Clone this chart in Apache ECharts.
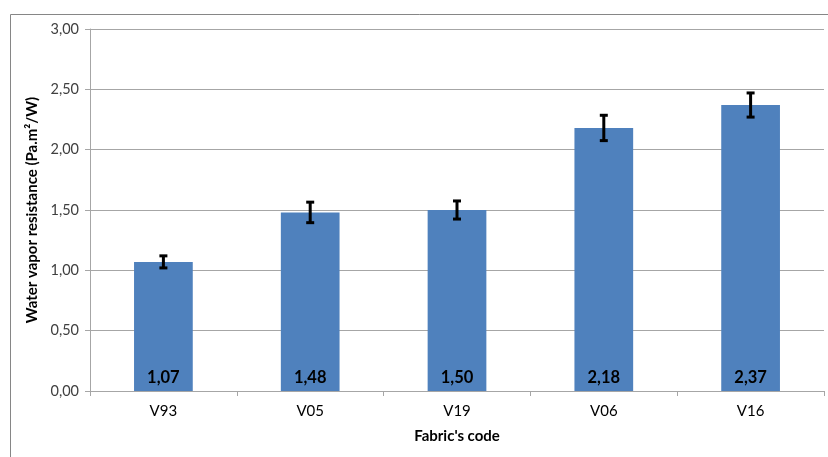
<!DOCTYPE html>
<html>
<head>
<meta charset="utf-8">
<script src="https://cdn.jsdelivr.net/npm/echarts@6/dist/echarts.min.js"></script>
<style>
  html, body { margin: 0; padding: 0; background: #fff; }
  #chart { width: 828px; height: 457px; }
</style>
</head>
<body>
<div id="chart"></div>
<script>
// Fabric codes and their mean water vapour resistance
const categories = ['V93', 'V05', 'V19', 'V06', 'V16'];
const values = [1.07, 1.48, 1.50, 2.18, 2.37];
// Symmetric error (± standard deviation) per fabric
const errors = [0.05, 0.085, 0.075, 0.105, 0.10];
const yTicks = [0, 0.5, 1, 1.5, 2, 2.5, 3];

const fmt = v => v.toFixed(2).replace('.', ',');
const FONT = 'Lato, "Open Sans", sans-serif';

const chart = echarts.init(document.getElementById('chart'), null, { renderer: 'canvas' });

const errorData = values.map((v, i) => [i, v - errors[i], v + errors[i]]);

chart.setOption({
  animation: false,
  backgroundColor: '#ffffff',
  graphic: [{
    type: 'rect',
    left: 8, top: 12,
    shape: { width: 840, height: 470 },
    style: { fill: 'none', stroke: '#868686', lineWidth: 1 },
    silent: true, z: -1
  }],
  grid: { left: 90, right: 4, top: 29, bottom: 66, containLabel: false },
  xAxis: {
    type: 'category',
    data: categories,
    name: "Fabric's code",
    nameLocation: 'middle',
    nameGap: 38,
    nameTextStyle: { fontFamily: FONT, fontSize: 15, fontWeight: 'bold', color: '#000' },
    axisLine: { lineStyle: { color: '#a6a6a6', width: 1 } },
    axisTick: { show: true, length: 5, alignWithLabel: false, lineStyle: { color: '#a6a6a6' } },
    axisLabel: { fontFamily: FONT, fontSize: 15, color: '#000', margin: 13 }
  },
  yAxis: {
    type: 'value',
    min: 0, max: 3, interval: 0.5,
    name: 'Water vapor resistance (Pa.m²/W)',
    nameLocation: 'middle',
    nameGap: 46,
    nameRotate: 90,
    nameTextStyle: { fontFamily: FONT, fontSize: 15, fontWeight: 'bold', color: '#000' },
    axisLine: { show: true, lineStyle: { color: '#a6a6a6', width: 1 } },
    axisTick: { show: true, length: 5, lineStyle: { color: '#a6a6a6' } },
    splitLine: { lineStyle: { color: '#a6a6a6', width: 1 } },
    axisLabel: {
      fontFamily: FONT, fontSize: 14.5, color: '#404040', margin: 11,
      formatter: v => yTicks.includes(v) ? fmt(v) : ''
    }
  },
  series: [
    {
      type: 'bar',
      data: values,
      barWidth: '40%',
      itemStyle: { color: '#4f81bd' },
      label: {
        show: true,
        position: 'insideBottom',
        distance: 5,
        formatter: p => fmt(p.value),
        fontFamily: FONT, fontSize: 16.5, fontWeight: 'bold', color: '#000'
      }
    },
    {
      type: 'custom',
      data: errorData,
      z: 10,
      renderItem: (params, api) => {
        const x = api.value(0);
        const lo = api.coord([x, api.value(1)]);
        const hi = api.coord([x, api.value(2)]);
        const cap = 4;
        const st = { stroke: '#000', lineWidth: 3 };
        return {
          type: 'group',
          children: [
            { type: 'line', shape: { x1: hi[0], y1: hi[1], x2: lo[0], y2: lo[1] }, style: st },
            { type: 'line', shape: { x1: hi[0] - cap, y1: hi[1], x2: hi[0] + cap, y2: hi[1] }, style: st },
            { type: 'line', shape: { x1: lo[0] - cap, y1: lo[1], x2: lo[0] + cap, y2: lo[1] }, style: st }
          ]
        };
      }
    }
  ]
});
</script>
</body>
</html>
